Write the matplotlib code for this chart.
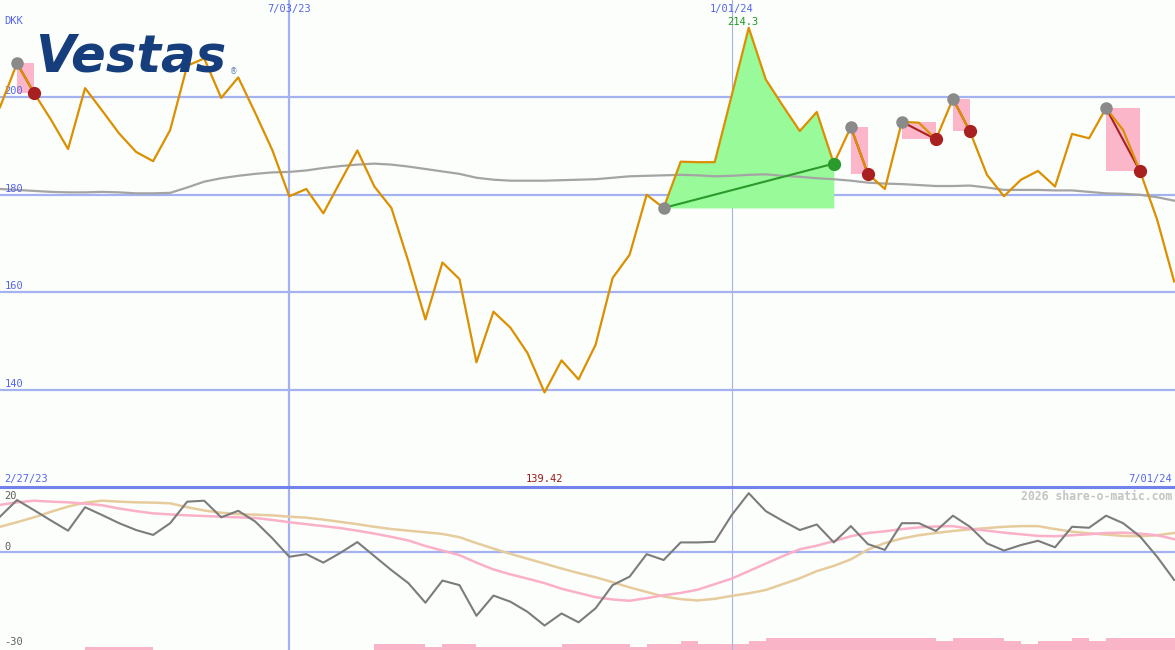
import matplotlib
matplotlib.use('Agg')
import matplotlib.pyplot as plt
import matplotlib.transforms as mtransforms
import numpy as np

# weekly closes, Vestas (DKK), 2/27/23 .. 7/01/24
price = [198.0, 207.0, 200.9, 195.4, 189.4, 201.9, 197.3, 192.6, 188.8, 186.9,
         193.3, 206.5, 208.0, 199.9, 204.1, 196.8, 189.2, 179.7, 181.2, 176.2,
         182.7, 189.1, 181.7, 177.3, 166.3, 154.4, 166.1, 162.7, 145.6, 156.0,
         152.7, 147.5, 139.42, 146.0, 142.1, 149.2, 162.9, 167.7, 180.0, 177.3,
         186.8, 186.7, 186.7, 200.4, 214.3, 203.7, 198.3, 193.1, 197.0, 186.4,
         193.9, 184.3, 181.2, 195.0, 194.8, 191.4, 199.7, 193.0, 184.1, 179.7,
         183.1, 184.9, 181.7, 192.5, 191.6, 197.8, 193.3, 184.8, 174.9, 162.2]

moving_avg = [181.2, 181.0, 180.8, 180.6, 180.5, 180.5, 180.6, 180.5, 180.3, 180.3,
              180.4, 181.5, 182.7, 183.4, 183.9, 184.3, 184.6, 184.7, 185.0, 185.5,
              185.9, 186.2, 186.4, 186.2, 185.8, 185.3, 184.8, 184.3, 183.5, 183.1,
              182.9, 182.9, 182.9, 183.0, 183.1, 183.2, 183.5, 183.8, 183.9, 184.0,
              184.1, 184.0, 183.8, 183.9, 184.1, 184.2, 183.9, 183.7, 183.4, 183.2,
              182.9, 182.5, 182.3, 182.2, 182.0, 181.8, 181.8, 181.9, 181.5, 181.0,
              181.0, 181.0, 180.9, 180.9, 180.6, 180.3, 180.2, 180.0, 179.5, 178.8]

momentum = [10.9, 16.0, 12.9, 9.7, 6.6, 13.8, 11.4, 8.9, 6.8, 5.3,
            8.9, 15.5, 15.8, 10.7, 12.7, 9.4, 4.3, -1.4, -0.6, -3.2,
            -0.2, 3.1, -1.2, -5.5, -9.5, -15.5, -8.7, -10.1, -19.5, -13.3,
            -15.2, -18.3, -22.5, -18.8, -21.5, -17.2, -10.1, -7.5, -0.6, -2.4,
            3.0, 3.0, 3.2, 11.4, 18.1, 12.6, 9.6, 6.8, 8.5, 3.0,
            8.0, 2.5, 0.7, 8.9, 8.9, 6.5, 11.2, 7.8, 2.7, 0.5,
            2.2, 3.5, 1.5, 7.8, 7.5, 11.2, 8.9, 4.8, -1.4, -8.5]

signal_fast = [14.5, 15.3, 15.8, 15.5, 15.3, 14.9, 14.4, 13.4, 12.6, 11.9,
               11.6, 11.3, 11.1, 10.9, 10.7, 10.5, 9.9, 9.2, 8.6, 8.0,
               7.4, 6.6, 5.7, 4.7, 3.6, 1.9, 0.5, -0.9, -3.2, -5.3,
               -6.8, -8.1, -9.5, -11.2, -12.5, -13.8, -14.5, -14.9, -14.1, -13.2,
               -12.5, -11.5, -9.8, -8.1, -5.8, -3.5, -1.2, 0.9, 2.0, 3.4,
               4.9, 5.9, 6.4, 7.1, 7.6, 7.9, 8.0, 7.2, 6.6, 6.0,
               5.5, 5.0, 4.9, 5.2, 5.5, 5.9, 6.0, 5.7, 5.2, 4.0]

signal_slow = [7.8, 9.2, 10.7, 12.4, 14.0, 15.2, 15.8, 15.5, 15.3, 15.2,
               15.0, 13.8, 12.8, 12.1, 11.7, 11.5, 11.3, 10.9, 10.6, 10.0,
               9.3, 8.6, 7.8, 7.1, 6.6, 6.1, 5.6, 4.6, 2.8, 1.1,
               -0.5, -2.0, -3.5, -5.0, -6.4, -7.7, -9.2, -10.8, -12.2, -13.6,
               -14.4, -14.8, -14.3, -13.4, -12.6, -11.6, -9.8, -8.0, -5.8, -4.2,
               -2.2, 0.8, 2.8, 4.2, 5.2, 5.9, 6.5, 7.0, 7.4, 7.8,
               8.0, 8.0, 7.1, 6.3, 5.8, 5.4, 5.0, 4.9, 5.2, 5.9]

volume = [0, 0, 0, 0, 0, 1, 1, 1, 1, 0,
          0, 0, 0, 0, 0, 0, 0, 0, 0, 0,
          0, 0, 2, 2, 2, 1, 2, 2, 1, 1,
          1, 1, 1, 2, 2, 2, 2, 1, 2, 2,
          3, 2, 2, 2, 3, 4, 4, 4, 4, 4,
          4, 4, 4, 4, 4, 3, 4, 4, 4, 3,
          2, 3, 3, 4, 3, 4, 4, 4, 4, 4]

# (peak week, exit week)
sell_signals = [(1, 2), (50, 51), (53, 55), (56, 57), (65, 67)]
buy_signal = (39, 49)

date_lines = {17: '7/03/23', 43: '1/01/24'}
start_date = '2/27/23'
end_date = '7/01/24'
price_ticks = [200, 180, 160, 140]

weeks = np.arange(len(price))
price = np.array(price)

BG = '#fcfefb'
GRID = '#a4b2f2'
LABEL_BLUE = '#5565ee'
MONO = 'DejaVu Sans Mono'

fig = plt.figure(figsize=(11.75, 6.5), dpi=100, facecolor=BG)
ax1 = fig.add_axes([0, 163 / 650, 1, 487 / 650])
ax2 = fig.add_axes([0, 0, 1, 163 / 650])
axv = ax2.twinx()
axv.set_zorder(-1)

for ax in (ax1, ax2, axv):
    ax.set_axis_off()
    ax.set_xlim(0, 69.05)
ax1.set_ylim(120, 220)
ax2.set_ylim(-30, 20)
axv.set_ylim(0, 54)


def label(ax, y, text, dy_px, x=0.004, xdata=False, color=LABEL_BLUE, ha='left', **kw):
    tr = ax.transData if xdata else mtransforms.blended_transform_factory(ax.transAxes, ax.transData)
    ax.annotate(text, xy=(x, y), xycoords=tr, xytext=(0, dy_px * 0.72),
                textcoords='offset points', ha=ha, va='center', color=color,
                family=MONO, fontsize=7.5, annotation_clip=False, **kw)


# grid
for v in price_ticks:
    ax1.axhline(v, color=GRID, lw=1.6, zorder=0)
    label(ax1, v, str(v), 6)
label(ax1, 220, 'DKK', -21)
ax1.axvline(17, color=GRID, lw=1.6, zorder=0)
ax2.axvline(17, color=GRID, lw=1.6, zorder=0)
ax1.axvline(43, color='#a8b0e4', lw=0.8, zorder=0)
ax2.axvline(43, color='#a8b0e4', lw=0.8, zorder=0)
for wk, txt in date_lines.items():
    label(ax1, 220, txt, -9, x=wk, xdata=True, ha='center')

ax2.axhline(0, color=GRID, lw=1.6, zorder=0)
ax2.axhline(20, color='#7282ec', lw=2.2, zorder=5, clip_on=False)

# sell signals: pink boxes + dots
for a, b in sell_signals:
    ax1.fill_between([a, b], price[b], price[a], color='#fbb6ca', lw=0, zorder=1)
    ax1.plot([a, b], [price[a], price[b]], color='#a82020', lw=1.5, zorder=3)

# buy signal: green area
a, b = buy_signal
ax1.fill_between(weeks[a:b + 1], price[a], price[a:b + 1], color='#98fa98', lw=0, zorder=1)

ax1.plot(weeks, moving_avg, color='#a4a4a4', lw=1.6, zorder=2)
ax1.plot([a, b], [price[a], price[b]], color='#2a9a2a', lw=1.5, zorder=3)
ax1.plot(weeks, price, color='#da9000', lw=1.6, zorder=4)

for a, b in sell_signals:
    ax1.plot(a, price[a], 'o', ms=8, color='#8a8a8a', zorder=6)
    ax1.plot(b, price[b], 'o', ms=8.5, color='#a82020', zorder=6)
ax1.plot(buy_signal[0], price[buy_signal[0]], 'o', ms=8, color='#8a8a8a', zorder=6)
ax1.plot(buy_signal[1], price[buy_signal[1]], 'o', ms=8.5, color='#2a9a2a', zorder=6)

hi = int(np.argmax(price))
lo = int(np.argmin(price))
ax1.annotate(f'{price[hi]:.1f}', xy=(hi, price[hi]), xytext=(-4.3, 4.5),
             textcoords='offset points', ha='center', va='center',
             color='#1f9a1f', family=MONO, fontsize=7.5)

bottom_tr = mtransforms.blended_transform_factory(ax1.transData, ax1.transAxes)
ax1.text(lo, 1 - 479 / 487, f'{price[lo]:.2f}', transform=bottom_tr, ha='center', va='center',
         color='#a01818', family=MONO, fontsize=7.5)
ax1.text(0.004, 1 - 479 / 487, start_date, transform=ax1.transAxes, ha='left', va='center',
         color=LABEL_BLUE, family=MONO, fontsize=7.5)
ax1.text(0.9975, 1 - 479 / 487, end_date, transform=ax1.transAxes, ha='right', va='center',
         color=LABEL_BLUE, family=MONO, fontsize=7.5)

# lower panel
axv.bar(weeks, volume, width=1, align='edge', color='#f9b4c8', lw=0)
ax2.plot(weeks, signal_slow, color='#e6cc9c', lw=1.8, zorder=2)
ax2.plot(weeks, signal_fast, color='#f9b0c8', lw=1.8, zorder=2)
ax2.plot(weeks, momentum, color='#7c7c7c', lw=1.5, zorder=3)
label(ax2, 20, '20', -9, color='#606060')
label(ax2, 0, '0', 5.5, color='#606060')
label(ax2, -30, '-30', 8, color='#606060')
ax2.text(0.9975, 1 - 9 / 163, '2026 share-o-matic.com', transform=ax2.transAxes,
         ha='right', va='center', color='#c4c4c4', family=MONO, fontsize=8.3,
         fontweight='bold')

# logo
fig.text(35 / 1175, 1 - 72 / 650, 'Vestas', fontsize=37, fontweight='bold', style='italic',
         color='#173e7c', ha='left', va='baseline')
fig.text(230 / 1175, 1 - 74 / 650, '®', fontsize=5.5, color='#5a7ab0', ha='left', va='baseline')

fig.savefig('out.png', dpi=100, facecolor=BG)
